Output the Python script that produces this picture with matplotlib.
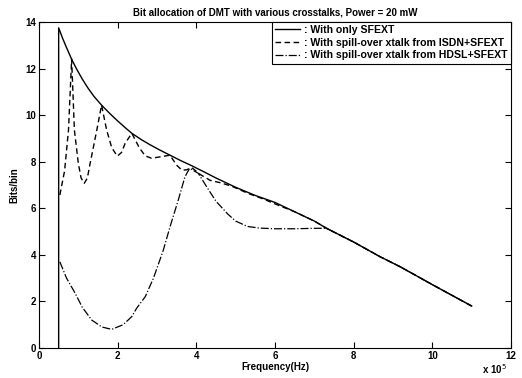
import matplotlib
matplotlib.use("Agg")
import matplotlib.pyplot as plt

plt.rcParams['font.family'] = ['Liberation Sans', 'DejaVu Sans']

# frecuencia en unidades de 1e5 Hz
f_sfext = [0.5, 0.5, 0.6, 0.7, 0.83, 0.95, 1.1, 1.25, 1.4, 1.59, 1.8, 2.0, 2.2, 2.36,
           2.6, 2.8, 3.05, 3.33, 3.6, 3.88, 4.2, 4.5, 5.0, 5.5, 6.0, 6.5, 7.0, 7.31,
           8.0, 8.67, 9.18, 10.0, 10.5, 11.0]
b_sfext = [0, 13.75, 13.3, 12.9, 12.4, 12.0, 11.55, 11.15, 10.8, 10.43, 10.07, 9.75, 9.45, 9.22,
           8.95, 8.75, 8.52, 8.28, 8.05, 7.83, 7.56, 7.3, 6.9, 6.55, 6.25, 5.85, 5.45, 5.14,
           4.55, 3.92, 3.49, 2.72, 2.26, 1.8]

f_isdn = [0.53, 0.65, 0.75, 0.83, 0.9, 1.0, 1.07, 1.15, 1.23, 1.3, 1.47, 1.59, 1.72, 1.85,
          1.99, 2.1, 2.19, 2.36, 2.55, 2.7, 2.86, 3.05, 3.33, 3.5, 3.63, 3.75, 3.88, 4.1,
          4.35, 4.6, 4.9, 5.3, 5.7, 6.1, 6.5, 7.0, 7.31, 8.0, 8.67, 9.18, 10.0, 10.5, 11.0]
b_isdn = [6.57, 7.6, 9.36, 12.4, 9.36, 7.93, 7.3, 7.07, 7.3, 7.93, 9.36, 10.43, 9.36, 8.6,
          8.24, 8.4, 8.79, 9.22, 8.6, 8.25, 8.15, 8.2, 8.28, 7.85, 7.64, 7.65, 7.75, 7.45,
          7.2, 7.1, 6.95, 6.65, 6.4, 6.12, 5.85, 5.45, 5.14, 4.55, 3.92, 3.49, 2.72, 2.26, 1.8]

f_hdsl = [0.53, 0.7, 0.92, 1.1, 1.34, 1.6, 1.85, 2.14, 2.36, 2.48, 2.7, 2.91, 3.16, 3.33,
          3.54, 3.71, 3.83, 4.05, 4.26, 4.5, 4.8, 5.0, 5.3, 5.6, 6.0, 6.5, 7.0, 7.31,
          8.0, 8.67, 9.18, 10.0, 10.5, 11.0]
b_hdsl = [3.7, 3.0, 2.35, 1.75, 1.2, 0.9, 0.8, 1.0, 1.35, 1.7, 2.2, 3.0, 4.2, 5.2,
          6.35, 7.35, 7.72, 7.5, 6.93, 6.3, 5.75, 5.45, 5.22, 5.15, 5.12, 5.12, 5.14, 5.14,
          4.55, 3.92, 3.49, 2.72, 2.26, 1.8]

etiquetas = [": With only SFEXT",
             ": With spill-over xtalk from ISDN+SFEXT",
             ": With spill-over xtalk from HDSL+SFEXT"]

fig = plt.figure(figsize=(5.22, 3.78), dpi=100)
ax = fig.add_axes([0.0747, 0.0794, 0.9043, 0.8624])

ax.plot(f_sfext, b_sfext, 'k-', linewidth=1.0, label=etiquetas[0])
ax.plot(f_isdn, b_isdn, color='k', linestyle=(0, (4, 2.5)), linewidth=1.0, label=etiquetas[1])
ax.plot(f_hdsl, b_hdsl, 'k-.', linewidth=0.9, label=etiquetas[2])

ax.set_xlim(0, 12)
ax.set_ylim(0, 14)
ax.set_xticks(range(0, 13, 2))
ax.set_yticks(range(0, 15, 2))
ax.tick_params(direction='in', top=True, right=True, labelsize=7, length=4, pad=2)
for lab in ax.get_xticklabels() + ax.get_yticklabels():
    lab.set_fontweight('bold')

ax.set_title("Bit allocation of DMT with various crosstalks, Power = 20 mW",
             fontsize=7, fontweight='bold', pad=5)
ax.set_xlabel("Frequency(Hz)", fontsize=7, fontweight='bold', labelpad=1)
ax.set_ylabel("Bits/bin", fontsize=7, fontweight='bold', labelpad=4)
ax.text(0.992, -0.045, r"x 10$^5$", transform=ax.transAxes, fontsize=7,
        fontweight='bold', ha='right', va='top')

leg = ax.legend(loc='upper right', fontsize=7.6, handlelength=2.4, borderpad=0.3,
                labelspacing=0.25, handletextpad=0.4, borderaxespad=0.0,
                fancybox=False, framealpha=1)
leg.get_frame().set_edgecolor('black')
leg.get_frame().set_linewidth(0.8)
for t in leg.get_texts():
    t.set_fontweight('bold')

fig.savefig("out.png", dpi=100)
